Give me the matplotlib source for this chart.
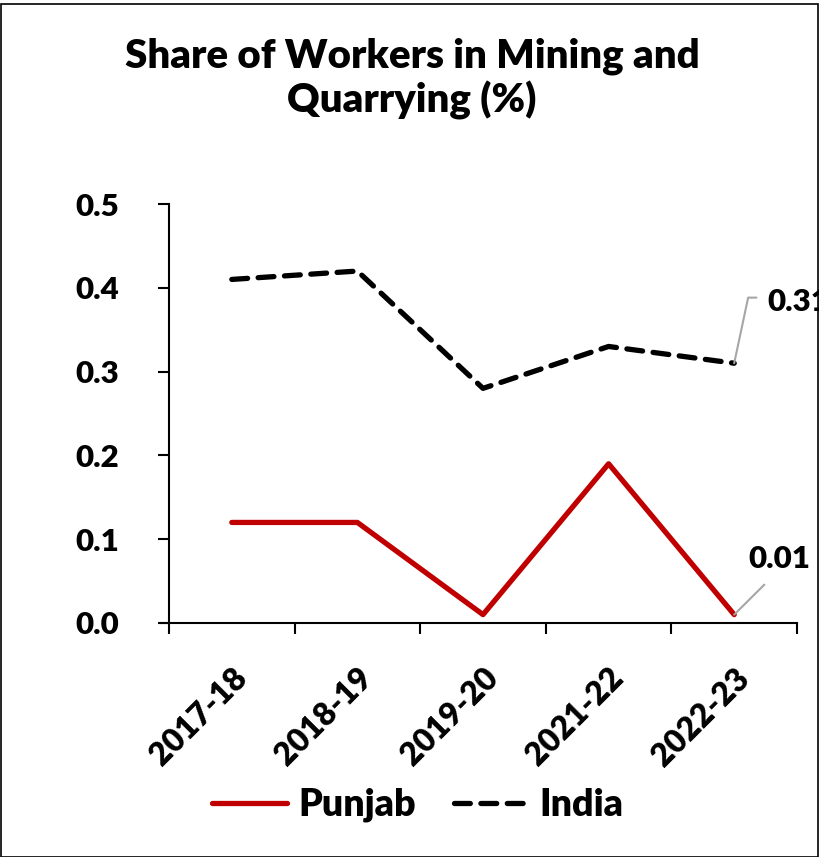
import matplotlib
matplotlib.use("Agg")
import matplotlib.pyplot as plt
from matplotlib.patches import Rectangle

years = ["2017-18", "2018-19", "2019-20", "2021-22", "2022-23"]
punjab = [0.12, 0.12, 0.01, 0.19, 0.01]
india = [0.41, 0.42, 0.28, 0.33, 0.31]
yticks = [0.0, 0.1, 0.2, 0.3, 0.4, 0.5]
title = "Share of Workers in Mining and\nQuarrying (%)"

plt.rcParams['font.family'] = ['Lato', 'DejaVu Sans']
plt.rcParams['font.weight'] = 'heavy'
FW = 'heavy'

W, H = 819, 857
fig = plt.figure(figsize=(W / 100, H / 100), dpi=100)
ax = fig.add_axes([169 / W, 1 - 623 / H, (797 - 169) / W, (623 - 204) / H])

x = list(range(len(years)))
ax.plot(x, punjab, color='#C00000', lw=3.8, solid_capstyle='round', label='Punjab')
ax.plot(x, india, color='#000000', lw=3.8, ls=(0, (3, 2)), dash_capstyle='round', label='India')

ax.set_xlim(-0.5, len(years) - 0.5)
ax.set_ylim(0, 0.5)
ax.set_yticks(yticks)
ax.set_yticklabels([f"{v:.1f}" for v in yticks], fontsize=22.5, fontweight=FW)
ax.set_xticks([i - 0.5 for i in range(len(years) + 1)])
ax.set_xticklabels([])
ax.set_xticks(x, minor=True)
ax.set_xticklabels(years, minor=True, rotation=45, ha='right', rotation_mode='anchor',
                   fontsize=23, fontweight=FW)
ax.tick_params(axis='x', which='minor', length=0, pad=29)
ax.tick_params(axis='x', which='major', length=8, width=1.5, direction='out')
ax.tick_params(axis='y', length=8, width=1.5, direction='out', pad=28)
for s in ['top', 'right']:
    ax.spines[s].set_visible(False)
for s in ['left', 'bottom']:
    ax.spines[s].set_linewidth(1.5)
ax.spines['bottom'].set_bounds(-0.5 - 0.06, len(years) - 0.5)

fig.text(412 / W, 1 - 79 / H, title, ha='center', va='center', fontsize=29,
         fontweight=FW, linespacing=1.2)

# data labels with leader lines
ax.annotate(f"{india[-1]:.2f}", xy=(x[-1], india[-1]), xytext=(24, 44),
            textcoords='offset points', ha='left', va='center', fontsize=22.5,
            fontweight=FW, annotation_clip=False,
            arrowprops=dict(arrowstyle='-', color='#A6A6A6', lw=1.5,
                            connectionstyle='angle,angleA=0,angleB=78,rad=0',
                            relpos=(0, 0.66), shrinkA=6, shrinkB=0))
ax.annotate(f"{punjab[-1]:.2f}", xy=(x[-1], punjab[-1]), xytext=(10, 40),
            textcoords='offset points', ha='left', va='center', fontsize=22.5,
            fontweight=FW, annotation_clip=False,
            arrowprops=dict(arrowstyle='-', color='#A6A6A6', lw=1.5,
                            relpos=(0.45, 0), shrinkA=9, shrinkB=0))

leg = fig.legend(loc='center', bbox_to_anchor=(418 / W, 1 - 805 / H), ncol=2,
                 frameon=False, fontsize=27, handlelength=2.0, columnspacing=1.0,
                 handletextpad=0.3)
for t in leg.get_texts():
    t.set_fontweight(FW)

fig.patches.append(Rectangle((0.5 / W, 0.5 / H), 1 - 1.5 / W, 1 - 4 / H,
                             transform=fig.transFigure, fill=False,
                             edgecolor='black', lw=1.2))

fig.savefig("out.png", dpi=100)
